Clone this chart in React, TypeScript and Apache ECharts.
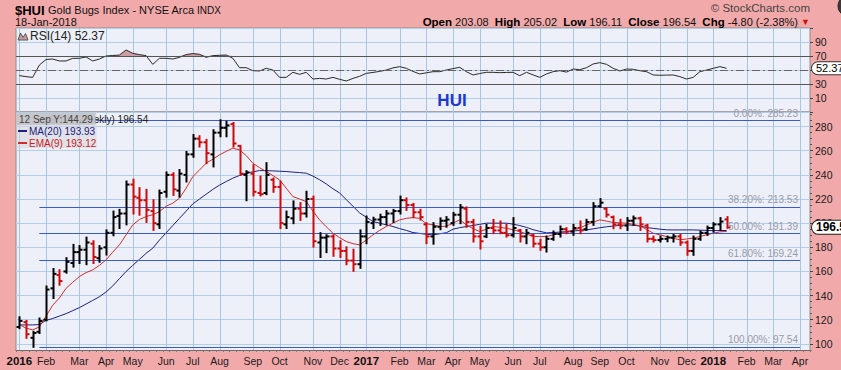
import React, { useEffect, useRef } from "react";
import * as echarts from "echarts";

const FONT = "'Liberation Sans', Arial, sans-serif";
const PINK = "#F2A9AA";
const PLOT_BG = "#EDF0F8";
const GRID_LINE = "#B4CDE8";
const MONTH_LINE = "#A9C5E4";

const weekCount = 119;
const firstWeekUTC = Date.UTC(2016, 0, 4);
const monthNames = ["Jan", "Feb", "Mar", "Apr", "May", "Jun", "Jul", "Aug", "Sep", "Oct", "Nov", "Dec"];

const opens = [
  114, 118, 105, 110, 120, 146, 157, 160, 167, 176,
  178, 183, 171, 180, 192, 206, 208, 232, 221, 219,
  210, 199, 226, 240, 227, 240, 257, 270, 267, 257,
  275, 279, 282, 264, 240, 241, 225, 225, 236, 230,
  199, 204, 212, 208, 220, 184, 188, 189, 179, 177,
  169, 166, 189, 200, 203, 205, 208, 210, 219, 215,
  209, 199, 189, 197, 202, 200, 207, 212, 201, 189,
  189, 196, 194, 192, 190, 194, 189, 190, 183, 180,
  187, 191, 195, 193, 196, 195, 201, 214, 212, 205,
  199, 198, 202, 204, 198, 187, 186, 187, 188, 189,
  184, 177, 187, 192, 196, 199, 203.08,
];
const highs = [
  122, 119, 110, 121, 147.5, 162, 161, 171, 182, 181,
  188, 185, 181, 194, 209.6, 211, 234.5, 236, 229, 227.6,
  219, 227, 242, 241.4, 244, 259, 273, 272, 269, 277,
  285.23, 284, 283, 264, 243, 248, 238.6, 249.7, 237, 234.5,
  209.6, 218, 216.6, 226, 222, 191.7, 190, 190, 185, 180,
  178, 194, 205.5, 204.5, 207, 210, 211, 222, 220.5, 216,
  211, 200, 200, 204, 205, 208.5, 215, 213, 202.7, 197,
  198.6, 202.7, 201.4, 198.6, 204.2, 194.4, 194.4, 190.3, 186.2, 188.9,
  193.1, 197.2, 195.8, 198.6, 201.4, 202.8, 216.6, 219.9, 212.5, 205.5,
  202.8, 204.2, 205.5, 204.5, 198.6, 188.9, 188.9, 188.9, 190.3, 190.3,
  184.8, 188.9, 193.1, 197.2, 200, 204.2, 205.02,
];
const lows = [
  113, 105, 97.54, 109, 119.5, 138, 149, 159, 164, 167,
  166, 167, 168, 174, 190, 196, 199, 208, 207, 201,
  194.4, 196, 222, 223.4, 222, 234.5, 255, 263.5, 249.7, 247,
  272, 272, 263.5, 240, 219, 223, 223, 224, 226, 196,
  196, 200, 202.7, 205.5, 180.6, 172, 176, 173, 172, 166,
  160.5, 163, 183.4, 196, 198.6, 199, 201, 208, 211, 205,
  203, 183.4, 183, 195, 197, 198.6, 200, 197, 184.8, 179,
  188.5, 191.7, 191.7, 188.9, 188.9, 184.8, 183.4, 180.7, 177.9, 176.5,
  186.2, 188.9, 191.7, 190.3, 191.7, 194.4, 198.6, 213.7, 205.5, 195.8,
  195.8, 194.4, 198.6, 194.4, 184.8, 184.8, 184.8, 185, 184.8, 182,
  173.8, 173.8, 186.2, 190.3, 193, 194.4, 196.11,
];
const closes = [
  119, 108, 109, 119, 145, 158, 152, 168, 176, 178,
  184, 172, 179, 192, 205, 208, 232, 222, 219, 211,
  200, 225, 240, 228, 241, 257, 270, 267, 258, 275,
  279, 281, 266, 241, 242, 226, 224, 240, 230, 200,
  205, 212, 208, 220, 185, 188, 189, 179, 177, 169,
  166, 189, 201, 203, 205, 208, 210, 219, 215, 209,
  205, 189, 197, 202, 203, 207, 213, 201, 189, 185,
  196, 194, 192, 190, 196, 189, 192, 183, 180, 187,
  191, 195, 193, 196, 194, 201, 214, 217, 207, 199,
  198, 202, 204, 199, 187, 186, 187, 188, 189, 184,
  177, 187, 192, 196, 199, 201.34, 196.54,
];
const ma20 = [
  115.7, 115.7, 115.7, 116, 119.5, 121, 123, 125, 127.5, 130,
  133, 136, 139, 143, 148, 154, 160, 165, 170, 175,
  179.3, 186, 192, 198, 204, 210, 216, 220, 224, 228,
  231.5, 234.5, 237.3, 239.5, 241.4, 242.5, 243.6, 243.5, 243.3, 243,
  242.8, 242.3, 241.9, 241.4, 239, 236, 232.5, 228.5, 225, 219.5,
  214, 208.5, 205, 201.3, 200, 198.6, 197.2, 195.5, 194, 192.2,
  191.5, 190.8, 190.3, 191.2, 192.1,
  195, 196.3, 197.2, 198.1, 199, 200, 200, 200, 200, 199.2,
  198, 196.5, 194.6, 193.2, 192, 192.2, 192.6, 193, 193.5, 194,
  194.4, 195.3, 196.2, 197, 197.6, 198.1, 198.6, 198.3, 197.6, 196.4,
  195.7, 195, 194.5, 194.4, 194.4, 194.4, 194.4, 194.2, 194, 193.8,
  193.9, 193.93,
];
const ema9 = [
  116, 113, 111.6, 114, 123, 132, 138, 146, 151, 155.8,
  159, 161.3, 165, 169.6, 176, 182, 190.3, 198.6, 203, 205.5,
  207, 209.6, 214, 216.6, 220.7, 229, 238.6, 244, 249.7, 253,
  256.6, 259.5, 262.1, 260.7, 256, 249.7, 246, 242.8, 239.5, 235.9,
  229, 222, 220, 217.9, 210, 202.7, 197, 191.7, 188, 184.8,
  183, 182, 186, 190.3, 194, 197.2, 200, 202.7, 204, 204.6,
  204, 199.5, 198.6, 197.2, 197.5,
  200, 202.8, 198.6, 195.5, 193.1, 195, 197.2, 196.5, 195.8, 194.5,
  193.1, 191, 188.9, 188.9, 188.9, 190.3, 191.7, 192.8, 193.9, 196,
  198.6, 200.7, 202.8, 201.7, 200.6, 200.3, 200, 199, 197.8, 194.8,
  191.7, 190.3, 188.9, 187.5, 186.2, 186.9, 187.6, 189, 190.3, 191.7,
  192.8, 193.12,
];
const rsi14 = [
  42, 40.5, 39.5, 57, 65, 65.7, 62.9, 62.9, 66.7, 66.7,
  68.6, 62.9, 65.7, 70, 70.7, 71.4, 78.6, 73.8, 72, 70.5,
  58.1, 66.7, 66.7, 65.7, 68, 72, 73.5, 72.4, 68.1, 70.5,
  71, 71.4, 66.7, 53.3, 53.3, 49, 48.6, 52.4, 50, 39.5,
  39.5, 46.7, 43.8, 46.7, 37.1, 38, 37.1, 39.5, 36.7, 34.3,
  38, 41, 45.2, 46.5, 48, 50, 53, 54.8, 52.4, 48,
  44.3, 46, 47.6, 47.6, 50, 52, 53.8, 47.6, 42.9, 45,
  46.7, 46.7, 46.2, 46.5, 46.7, 41.9, 46.7, 43, 39.5, 44.3,
  47.6, 49, 47, 51.4, 50.5, 53.3, 58.6, 60.5, 58.1, 52.4,
  48.6, 51.4, 51, 49, 47.6, 42.9, 42.5, 42.7, 42.9, 40.5,
  37.1, 39.5, 47.6, 50, 52.4, 54.8, 52.37,
];

const rsiLabelValues = [10, 30, 70, 90];
const rsiBands = [70, 30];
const rsiMid = 50;
const fibPercents = [0, 38.2, 50, 61.8, 100];
const fibStartIndex = 3;
const fibEndIndex = 117;
const priceAxisMin = 80;
const priceAxisMax = 292.1;
const priceLabelMin = 100;
const priceLabelMax = 280;
const crosshairText = "12 Sep Y:144.29";

function buildWeeks(): string[] {
  const out: string[] = [];
  for (let i = 0; i < weekCount; i++) {
    out.push(new Date(firstWeekUTC + i * 7 * 86400000).toISOString().slice(0, 10));
  }
  return out;
}

export default function App() {
  const ref = useRef<HTMLDivElement>(null);

  useEffect(() => {
    if (!ref.current) return;
    const chart = echarts.init(ref.current, null, { renderer: "svg" });
    const cats = buildWeeks();
    const monthStart = cats.map((c, i) => i === 0 || c.slice(5, 7) !== cats[i - 1].slice(5, 7));
    const monthStartIdx = monthStart.map((m, i) => (m ? i : -1)).filter((i) => i >= 0);
    const last = closes.length - 1;
    const fibHigh = Math.max(...highs);
    const fibLow = Math.min(...lows);
    const fibLevels = fibPercents.map((p) => ({ p, v: fibHigh - (p / 100) * (fibHigh - fibLow) }));
    const ohlc = closes.map((c, i) => [i, opens[i], highs[i], lows[i], c]);

    const hiddenX = {
      type: "category", data: cats, boundaryGap: true,
      axisLine: { show: false }, axisTick: { show: false }, axisLabel: { show: false }, splitLine: { show: false },
    };

    const monthGridSeries = (axisIndex: number, yRef: number) => ({
      name: "monthGrid" + axisIndex,
      type: "custom", xAxisIndex: axisIndex, yAxisIndex: axisIndex, z: 2, silent: true, clip: false,
      data: monthStartIdx.map((i) => [i, yRef]),
      encode: { x: 0, y: 1 },
      renderItem: (params: any, api: any) => {
        const p = api.coord([api.value(0), api.value(1)]);
        const cs = params.coordSys;
        const x = Math.round(p[0]) + 0.5;
        return {
          type: "rect",
          shape: { x: x - 0.5, y: cs.y, width: 1, height: cs.height },
          style: { fill: MONTH_LINE },
        };
      },
    });

    const option: any = {
      animation: false,
      backgroundColor: PINK,
      textStyle: { fontFamily: FONT },
      grid: [
        { left: 16, right: 31, top: 28, height: 84, show: true, backgroundColor: PLOT_BG, borderColor: "#8c8c8c", borderWidth: 1, z: 0 },
        { left: 16, right: 31, top: 112, height: 256, show: true, backgroundColor: PLOT_BG, borderColor: "#8c8c8c", borderWidth: 1, z: 0 },
        { left: 16, right: 31, top: 349, height: 1, show: false },
      ],
      xAxis: [
        { ...hiddenX, gridIndex: 0 },
        { ...hiddenX, gridIndex: 1 },
        {
          gridIndex: 2, type: "category", data: cats, boundaryGap: true, z: 60,
          axisLine: { show: true, lineStyle: { color: "#6a6a6a", width: 1 } },
          axisTick: { show: true, interval: 0, length: 2, lineStyle: { color: "#7a7a7a" } },
          splitLine: { show: false },
          axisLabel: {
            interval: (i: number) => monthStart[i],
            margin: 5,
            fontSize: 10.5,
            color: "#1a1a1a",
            fontFamily: FONT,
            formatter: (v: string) => {
              const m = parseInt(v.slice(5, 7), 10);
              return m === 1 ? `{y|${v.slice(0, 4)}}` : monthNames[m - 1];
            },
            rich: { y: { fontWeight: "bold", fontSize: 11.5, color: "#111", fontFamily: FONT } },
          },
        },
      ],
      yAxis: [
        {
          gridIndex: 0, type: "value", position: "right", min: -10, max: 110, interval: 20,
          axisLine: { show: false },
          axisTick: { show: true, length: 3, lineStyle: { color: "#444" } },
          axisLabel: {
            fontSize: 10.5, color: "#1a1a1a", margin: 5, fontFamily: FONT,
            formatter: (v: number) => (rsiLabelValues.includes(v) ? String(v) : ""),
          },
          splitLine: { show: true, lineStyle: { color: GRID_LINE, width: 1 } },
        },
        {
          gridIndex: 1, type: "value", position: "right", min: priceAxisMin, max: priceAxisMax, interval: 20,
          axisLine: { show: false },
          axisTick: { show: true, length: 3, lineStyle: { color: "#444" } },
          minorTick: { show: true, splitNumber: 4, length: 2, lineStyle: { color: "#555" } },
          axisLabel: {
            fontSize: 10.5, color: "#1a1a1a", margin: 5, fontFamily: FONT,
            formatter: (v: number) => (v >= priceLabelMin && v <= priceLabelMax ? String(v) : ""),
          },
          splitLine: { show: true, lineStyle: { color: GRID_LINE, width: 1 } },
        },
        { gridIndex: 2, type: "value", show: false },
      ],
      series: [
        monthGridSeries(0, rsiMid),
        monthGridSeries(1, priceLabelMin),
        {
          name: "rsiBase", type: "line", xAxisIndex: 0, yAxisIndex: 0, stack: "ob",
          data: rsi14.map(() => rsiBands[0]), symbol: "none", silent: true, z: 2,
          lineStyle: { opacity: 0 },
        },
        {
          name: "rsiOver", type: "line", xAxisIndex: 0, yAxisIndex: 0, stack: "ob",
          data: rsi14.map((v) => Math.max(v - rsiBands[0], 0)), symbol: "none", silent: true, z: 3,
          lineStyle: { opacity: 0 },
          areaStyle: { color: "#CC9EA4", opacity: 1 },
        },
        {
          name: "RSI", type: "line", xAxisIndex: 0, yAxisIndex: 0, data: rsi14, symbol: "none", z: 4,
          lineStyle: { color: "#2a2a2a", width: 1 },
          markLine: {
            symbol: "none", silent: true, label: { show: false },
            data: [
              ...rsiBands.map((b) => ({ yAxis: b, lineStyle: { color: "#555", width: 1, type: "solid" } })),
              { yAxis: rsiMid, lineStyle: { color: "#666", width: 1, type: [8, 3, 2, 3] } },
            ],
          },
        },
        {
          name: "MA(20)", type: "line", xAxisIndex: 1, yAxisIndex: 1, data: ma20, symbol: "none", z: 3,
          lineStyle: { color: "#20207A", width: 1 },
        },
        {
          name: "EMA(9)", type: "line", xAxisIndex: 1, yAxisIndex: 1, data: ema9, symbol: "none", z: 3,
          lineStyle: { color: "#D42A2A", width: 1 },
        },
        {
          name: "HUI", type: "custom", xAxisIndex: 1, yAxisIndex: 1, data: ohlc, z: 5,
          encode: { x: 0, y: [1, 2, 3, 4] },
          renderItem: (params: any, api: any) => {
            const i = api.value(0);
            const h = api.coord([i, api.value(2)]);
            const l = api.coord([i, api.value(3)]);
            const o = api.coord([i, api.value(1)]);
            const c = api.coord([i, api.value(4)]);
            const up = i === 0 || closes[i] >= closes[i - 1];
            const color = up ? "#000000" : "#CC0A0A";
            const x = Math.round(h[0]) + 0.5;
            const t = 3;
            const st = { stroke: color, lineWidth: 2 };
            return {
              type: "group",
              children: [
                { type: "line", shape: { x1: x, y1: h[1] - 1, x2: x, y2: l[1] + 1 }, style: st },
                { type: "line", shape: { x1: x - t, y1: o[1], x2: x, y2: o[1] }, style: st },
                { type: "line", shape: { x1: x, y1: c[1], x2: x + t, y2: c[1] }, style: st },
              ],
            };
          },
          markLine: {
            symbol: "none", silent: true,
            lineStyle: { color: "#3A5CC4", width: 1, type: "solid" },
            label: {
              show: true, position: "insideEndTop", distance: 2,
              color: "#9A9AAA", fontSize: 10, fontFamily: FONT,
              formatter: (p: any) => p.name,
            },
            data: fibLevels.map((f) => [
              { name: `${f.p.toFixed(2)}%: ${f.v.toFixed(2)}`, coord: [cats[fibStartIndex], f.v] },
              { coord: [cats[fibEndIndex], f.v] },
            ]),
          },
        },
      ],
    };

    chart.setOption(option);

    const px = (finder: any, v: any): number => {
      const r: any = chart.convertToPixel(finder, v);
      return Array.isArray(r) ? r[0] : r;
    };
    const yClose = px({ yAxisIndex: 1 }, closes[last]);
    const yRsi = px({ yAxisIndex: 0 }, rsi14[last]);
    const chg = closes[last] - closes[last - 1];
    const pct = (chg / closes[last - 1]) * 100;

    const txt = (x: number, y: number, text: string, font: string, fill: string, align = "left", z = 20, extra: any = {}) => ({
      type: "text", x, y, z,
      style: { text, font, fill, align, textAlign: align, verticalAlign: "middle", textVerticalAlign: "middle", ...extra },
    });

    const graphic: any[] = [
      // header
      txt(15, 10, "$HUI", `bold 13px ${FONT}`, "#000"),
      txt(48, 10, "Gold Bugs Index - NYSE Arca", `11px ${FONT}`, "#111"),
      txt(197, 10, "INDX", `10px ${FONT}`, "#111"),
      txt(15, 22, "18-Jan-2018", `11px ${FONT}`, "#111"),
      txt(810, 8, "\u00A9 StockCharts.com", `11.5px ${FONT}`, "#444", "right"),
      {
        type: "text", x: 810, y: 22, z: 20,
        style: {
          text: `{b|Open} ${opens[last].toFixed(2)}  {b|High} ${highs[last].toFixed(2)}  {b|Low} ${lows[last].toFixed(2)}  {b|Close} ${closes[last].toFixed(2)}  {b|Chg} ${chg.toFixed(2)} (${pct.toFixed(2)}%) {r|\u25BC}`,
          font: `11px ${FONT}`, fill: "#111", align: "right", textAlign: "right", verticalAlign: "middle", textVerticalAlign: "middle",
          rich: {
            b: { fontWeight: "bold", fontSize: 11.5, fill: "#000", fontFamily: FONT },
            r: { fill: "#D01010", fontSize: 9, fontFamily: FONT },
          },
        },
      },
      {
        type: "circle", z: 20, shape: { cx: 848, cy: 6, r: 10 },
        style: { fill: "#3b3b3b", stroke: "#222", lineWidth: 1 },
      },
      // RSI label
      {
        type: "polygon", z: 20,
        shape: { points: [[18, 40], [20.5, 33], [23, 37.5], [25.5, 33.5], [28, 40]] },
        style: { fill: "#C99AA0", stroke: "#555", lineWidth: 1 },
      },
      txt(30, 36, `RSI(14) ${rsi14[last].toFixed(2)}`, `12px ${FONT}`, "#222"),
      txt(452, 100, "HUI", `bold 17px ${FONT}`, "#1C38CF", "center"),
      // legend
      { type: "rect", z: 20, shape: { x: 16.5, y: 113, width: 80, height: 35 }, style: { fill: "rgba(214,214,220,0.55)" } },
      { type: "line", z: 21, shape: { x1: 38, y1: 119, x2: 48, y2: 119 }, style: { stroke: "#000", lineWidth: 2 } },
      txt(50, 119, `$HUI (Weekly) ${closes[last].toFixed(2)}`, `10px ${FONT}`, "#222", "left", 21),
      { type: "rect", z: 22, shape: { x: 16.5, y: 113, width: 79, height: 12 }, style: { fill: "rgba(196,196,200,0.92)" } },
      txt(19, 119, crosshairText, `10px ${FONT}`, "#444", "left", 23),
      { type: "line", z: 21, shape: { x1: 18, y1: 131, x2: 27, y2: 131 }, style: { stroke: "#20207A", lineWidth: 2 } },
      txt(29, 131, `MA(20) ${ma20[last].toFixed(2)}`, `10px ${FONT}`, "#20207A", "left", 21),
      { type: "line", z: 21, shape: { x1: 18, y1: 143, x2: 27, y2: 143 }, style: { stroke: "#D42A2A", lineWidth: 2 } },
      txt(29, 143, `EMA(9) ${ema9[last].toFixed(2)}`, `10px ${FONT}`, "#C81E1E", "left", 21),
      // bottom band cover
      { type: "rect", z: 50, shape: { x: 0, y: 350.5, width: 841, height: 20 }, style: { fill: PINK } },
      // right tags
      txt(812, yClose, closes[last].toFixed(2), `bold 12px ${FONT}`, "#000", "left", 70, {
        backgroundColor: "#fff", borderColor: "#222", borderWidth: 1, borderRadius: [7, 0, 0, 7], padding: [1, 2, 0, 4],
      }),
      txt(812, yRsi, rsi14[last].toFixed(2), `11px ${FONT}`, "#000", "left", 70, {
        backgroundColor: "#fff", borderColor: "#333", borderWidth: 1, borderRadius: [6, 0, 0, 6], padding: [1, 2, 0, 4],
      }),
    ];

    chart.setOption({ graphic });

    return () => chart.dispose();
  }, []);

  return <div ref={ref} style={{ position: "absolute", left: 0, top: 0, width: 841, height: 370 }} />;
}
